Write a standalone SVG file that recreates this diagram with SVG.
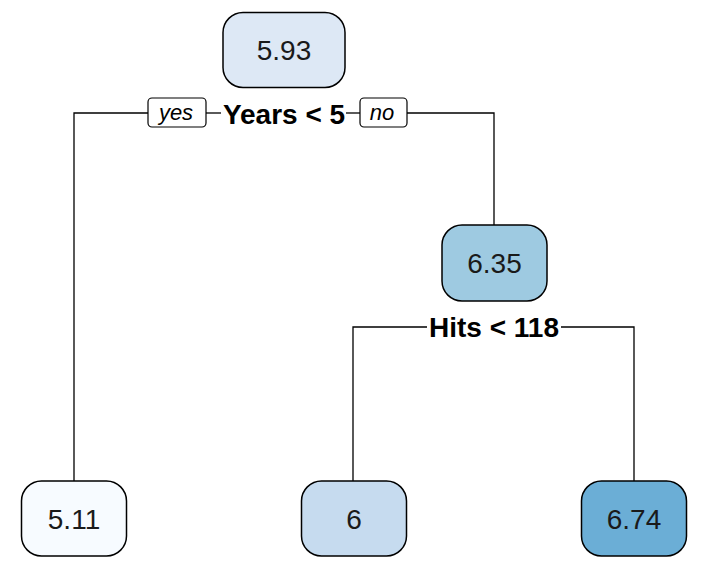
<svg xmlns="http://www.w3.org/2000/svg" width="701" height="583" viewBox="0 0 701 583">
<style>
.node rect{stroke:#000;stroke-width:1.5}
.node text{font-family:"Liberation Sans",Arial,sans-serif;font-size:28px;fill:#1a1a1a;text-anchor:middle}
.split{font-family:"Liberation Sans",Arial,sans-serif;font-size:28px;font-weight:bold;fill:#000;text-anchor:middle}
.lab rect{fill:#fff;stroke:#000;stroke-width:1.2}
.lab text{font-family:"Liberation Sans",Arial,sans-serif;font-size:22px;font-style:italic;fill:#000;text-anchor:middle}
#connectors path{fill:none;stroke:#000;stroke-width:1.3}
</style>
<rect width="701" height="583" fill="#fff"/>
<g id="connectors">
<path d="M148,113 H74 V481"/>
<path d="M206,113 H221"/>
<path d="M346,113 H360"/>
<path d="M407,113 H494 V225"/>
<path d="M427,327 H353 V481"/>
<path d="M561,327 H634 V481"/>
</g>
<g id="split1">
<text class="split" x="284" y="124">Years &lt; 5</text>
</g>
<g id="yes" class="lab">
<rect x="148" y="98" width="58" height="29" rx="4"/>
<text x="176" y="120">yes</text>
</g>
<g id="no" class="lab">
<rect x="360" y="98" width="47" height="29" rx="4"/>
<text x="382" y="120">no</text>
</g>
<g id="split2">
<text class="split" x="494" y="337">Hits &lt; 118</text>
</g>
<g id="n1" class="node">
<rect x="223" y="12.5" width="122" height="75" rx="20" fill="#dde8f5"/>
<text x="284" y="60">5.93</text>
</g>
<g id="n3" class="node">
<rect x="442" y="225" width="105" height="76" rx="20" fill="#9ecae1"/>
<text x="494.5" y="273">6.35</text>
</g>
<g id="n2" class="node">
<rect x="21.5" y="481" width="105" height="75" rx="20" fill="#f7fbff"/>
<text x="74" y="529">5.11</text>
</g>
<g id="n6" class="node">
<rect x="301.5" y="481" width="105" height="75" rx="20" fill="#c6dbef"/>
<text x="354" y="529">6</text>
</g>
<g id="n7" class="node">
<rect x="581.5" y="481" width="105" height="75" rx="20" fill="#6baed6"/>
<text x="634" y="529">6.74</text>
</g>
</svg>
